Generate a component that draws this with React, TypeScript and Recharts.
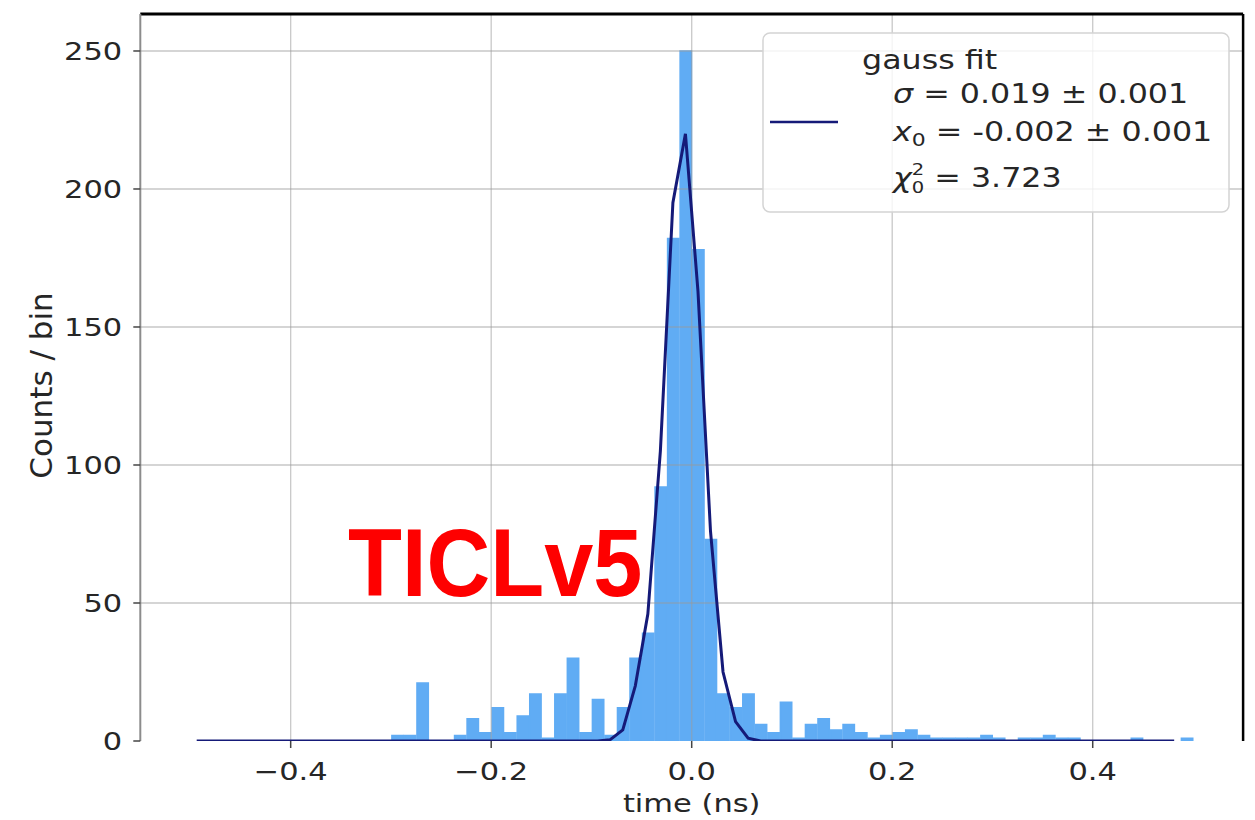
import React from 'react';
import { ComposedChart, Bar, Line, XAxis, YAxis, ReferenceLine, Legend } from 'recharts';

// ---- data ----
const BIN_START = -0.5;
const BIN_WIDTH = 0.0125;

const binCounts: number[] = [
  0, 0, 0, 0, 0, 0, 0, 0, 0, 0,
  0, 0, 0, 0, 0, 0, 2, 2, 21, 0,
  0, 2, 8, 3, 12, 3, 9, 17, 1, 17,
  30, 3, 15, 2, 12, 30, 39, 92, 182, 250,
  178, 73, 17, 12, 17, 6, 3, 14, 1, 6,
  8, 4, 6, 3, 1, 2, 3, 4, 2, 1,
  1, 1, 1, 2, 1, 0, 1, 1, 2, 1,
  1, 0, 0, 0, 0, 1, 0, 0, 0, 1,
];

const fitValues: (number | null)[] = [
  0, 0, 0, 0, 0, 0, 0, 0, 0, 0,
  0, 0, 0, 0, 0, 0, 0, 0, 0, 0,
  0, 0, 0, 0, 0, 0, 0, 0, 0, 0,
  0, 0, 0, 0.5, 4, 20, 46, 105, 195, 220,
  163, 76, 25, 7, 1, 0, 0, 0, 0, 0,
  0, 0, 0, 0, 0, 0, 0, 0, 0, 0,
  0, 0, 0, 0, 0, 0, 0, 0, 0, 0,
  0, 0, 0, 0, 0, 0, 0, 0, 0, null,
];

const xTicks = [-0.4, -0.2, 0, 0.2, 0.4];
const yTicks = [0, 50, 100, 150, 200, 250];
const xGrid = [-0.4, -0.2, 0, 0.2, 0.4];
const yGrid = [50, 100, 150, 200, 250];

const X_MIN = -0.55;
const X_MAX = 0.55;
const Y_MAX = 263.4;

const data = binCounts.map((c, i) => ({
  x: BIN_START + BIN_WIDTH * (i + 0.5),
  count: c,
  fit: fitValues[i],
}));

// ---- layout / style ----
const W = 1255;
const H = 820;
const PLOT_LEFT = 140.3;
const PLOT_RIGHT = 1243.1;
const PLOT_TOP = 14;
const PLOT_BOTTOM = 741;
const Y_AXIS_W = 110;
const X_AXIS_H = 70;
const BAR_SIZE = ((PLOT_RIGHT - PLOT_LEFT) / (X_MAX - X_MIN)) * BIN_WIDTH;

const FONT = 'DejaVu Sans';
const TXT = '#262626';
const NAVY = '#151a78';
const BLUE = '#60acf4';
const SX = 1.22;

const fmtX = (v: number) => {
  if (Math.abs(v) < 1e-9) return '0.0';
  return v < 0 ? '\u2212' + Math.abs(v).toFixed(1) : v.toFixed(1);
};

const XTick = (props: any) => {
  const { x, y, payload } = props;
  return (
    <text
      x={x}
      y={y}
      dy="0.71em"
      textAnchor="middle"
      fontSize={25}
      fontFamily={FONT}
      fill={TXT}
      transform={`translate(${x} ${y}) scale(${SX} 1) translate(${-x} ${-y})`}
    >
      {fmtX(payload.value)}
    </text>
  );
};

const YTick = (props: any) => {
  const { x, y, payload } = props;
  return (
    <text
      x={x}
      y={y}
      dy="0.355em"
      textAnchor="end"
      fontSize={25}
      fontFamily={FONT}
      fill={TXT}
      transform={`translate(${x} ${y}) scale(${SX} 1) translate(${-x} ${-y})`}
    >
      {String(payload.value)}
    </text>
  );
};

const LegendBox = () => (
  <svg width={468} height={181} style={{ display: 'block' }}>
    <rect x={1} y={1} width={466} height={179} rx={7} fill="#ffffff" fillOpacity={0.8} stroke="#d4d4d4" strokeWidth={1.5} />
    <line x1={8} x2={76} y1={90} y2={90} stroke={NAVY} strokeWidth={2.5} />
    <g fontFamily={FONT} fontSize={26} fill={TXT}>
      <text transform={`translate(100 37) scale(${SX} 1)`}>gauss fit</text>
      <text transform={`translate(131 71) scale(${SX} 1)`}>
        <tspan fontStyle="italic">σ</tspan>
        <tspan> = 0.019 ± 0.001</tspan>
      </text>
      <text transform={`translate(131 109) scale(${SX} 1)`}>
        <tspan fontStyle="italic">x</tspan>
        <tspan fontSize={18} dy={5}>0</tspan>
        <tspan dy={-5}> = -0.002 ± 0.001</tspan>
      </text>
      <text transform={`translate(131 155) scale(${SX} 1)`}>
        <tspan fontStyle="italic">χ</tspan>
        <tspan fontSize={16} dy={6}>0</tspan>
        <tspan fontSize={16} dx={-10.2} dy={-18}>2</tspan>
        <tspan dy={12}> = 3.723</tspan>
      </text>
    </g>
  </svg>
);

export default function App() {
  return (
    <div style={{ width: W, height: H, overflow: 'hidden' }}>
      <style>{`body{margin:0;overflow:hidden;background:#fff}`}</style>
      <ComposedChart
        width={W}
        height={H}
        data={data}
        margin={{
          top: PLOT_TOP,
          right: W - PLOT_RIGHT,
          left: PLOT_LEFT - Y_AXIS_W,
          bottom: H - PLOT_BOTTOM - X_AXIS_H,
        }}
        barGap={0}
      >
        <XAxis
          dataKey="x"
          type="number"
          domain={[X_MIN, X_MAX]}
          ticks={xTicks}
          allowDataOverflow
          height={X_AXIS_H}
          axisLine={false}
          tickSize={7}
          tickMargin={14}
          tickLine={{ stroke: '#444', strokeWidth: 1.5 }}
          tick={<XTick />}
          label={{
            content: (p: any) => {
              const vb = p.viewBox;
              const cx = vb.x + vb.width / 2;
              const by = vb.y + vb.height + 1;
              return (
                <text
                  x={cx}
                  y={by}
                  textAnchor="middle"
                  fontSize={25}
                  fontFamily={FONT}
                  fill={TXT}
                  transform={`translate(${cx} ${by}) scale(${SX} 1) translate(${-cx} ${-by})`}
                >
                  time (ns)
                </text>
              );
            },
          }}
        />
        <YAxis
          type="number"
          domain={[0, Y_MAX]}
          ticks={yTicks}
          allowDataOverflow
          width={Y_AXIS_W}
          axisLine={{ stroke: '#8c8c8c', strokeWidth: 2 }}
          tickSize={7}
          tickMargin={11}
          tickLine={{ stroke: '#444', strokeWidth: 1.5 }}
          tick={<YTick />}
          label={{
            content: (p: any) => {
              const vb = p.viewBox;
              const lx = vb.x + 11;
              const ly = vb.y + vb.height / 2 + 8;
              return (
                <text
                  x={lx}
                  y={ly}
                  textAnchor="middle"
                  dominantBaseline="central"
                  fontSize={31}
                  fontFamily={FONT}
                  fill={TXT}
                  transform={`rotate(-90 ${lx} ${ly})`}
                >
                  Counts / bin
                </text>
              );
            },
          }}
        />
        <Bar
          dataKey="count"
          fill={BLUE}
          stroke={BLUE}
          strokeWidth={1.6}
          barSize={BAR_SIZE}
          isAnimationActive={false}
          legendType="none"
        />
        {xGrid.map((v) => (
          <ReferenceLine key={'gx' + v} x={v} stroke="#9a9a9a" strokeOpacity={0.55} strokeWidth={1.3} />
        ))}
        {yGrid.map((v) => (
          <ReferenceLine key={'gy' + v} y={v} stroke="#9a9a9a" strokeOpacity={0.55} strokeWidth={1.3} />
        ))}
        <Line
          dataKey="fit"
          name="gauss fit"
          type="linear"
          stroke={NAVY}
          strokeWidth={3}
          dot={false}
          activeDot={false}
          connectNulls={false}
          isAnimationActive={false}
        />
        <ReferenceLine y={Y_MAX} stroke="#000" strokeWidth={3} />
        <ReferenceLine x={X_MAX} stroke="#000" strokeWidth={2.5} />
        <Legend
          layout="horizontal"
          verticalAlign="middle"
          align="center"
          content={() => <LegendBox />}
          wrapperStyle={{ left: 762, top: 32, width: 468, height: 181 }}
        />
        <text
          x={348}
          y={596}
          fontSize={96}
          fontWeight="bold"
          fontFamily="Liberation Sans, Arial, sans-serif"
          fill="#fe0000"
          transform="translate(348 596) scale(0.92 1) translate(-348 -596)"
        >
          TICLv5
        </text>
      </ComposedChart>
    </div>
  );
}
